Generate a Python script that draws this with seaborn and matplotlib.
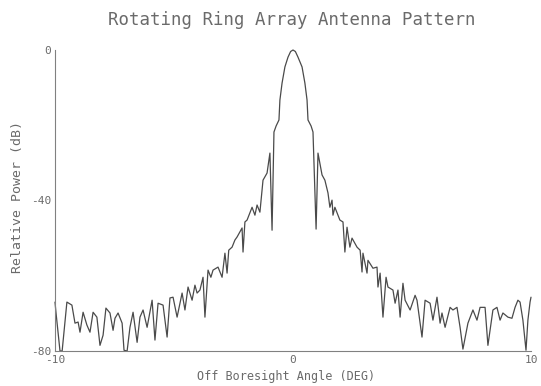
import pandas as pd
import matplotlib
matplotlib.use('Agg')
import matplotlib.pyplot as plt
import seaborn as sns

# Pattern values (angle in deg, relative power in dB)
left_lobes = [
    (-10.00, -67.0), (-9.96, -69.7), (-9.79, -80.0), (-9.70, -80.0), (-9.50, -67.0),
    (-9.29, -67.8), (-9.16, -72.6), (-9.03, -72.3), (-8.95, -75.0), (-8.82, -69.7),
    (-8.66, -73.1), (-8.53, -75.0), (-8.40, -69.7), (-8.24, -71.0), (-8.11, -78.5),
    (-7.98, -75.8), (-7.86, -68.6), (-7.69, -69.9), (-7.56, -74.5), (-7.48, -71.3),
    (-7.35, -69.9), (-7.18, -72.6), (-7.10, -79.8), (-6.97, -80.0), (-6.85, -73.7),
    (-6.72, -69.7), (-6.55, -77.7), (-6.43, -71.0), (-6.30, -69.1), (-6.13, -73.7),
    (-5.92, -66.5), (-5.80, -77.1), (-5.67, -67.3), (-5.46, -67.8), (-5.29, -76.3),
    (-5.17, -65.9), (-5.04, -65.7), (-4.87, -71.0), (-4.66, -64.6), (-4.54, -69.1),
    (-4.41, -63.0), (-4.24, -66.5), (-4.12, -62.5), (-4.03, -64.6), (-3.91, -63.8),
    (-3.78, -60.4), (-3.70, -71.0), (-3.57, -58.5), (-3.45, -60.4), (-3.36, -58.5),
    (-3.15, -57.7), (-2.98, -60.4), (-2.86, -54.0), (-2.77, -59.3), (-2.70, -53.2),
    (-2.56, -52.4), (-2.44, -50.5), (-2.35, -49.7), (-2.14, -47.3), (-2.10, -53.7),
    (-2.02, -45.7), (-1.93, -45.2), (-1.72, -41.8), (-1.60, -43.9), (-1.51, -41.2),
    (-1.39, -43.1), (-1.26, -34.6), (-1.09, -32.7), (-0.97, -27.4), (-0.88, -47.9),
]

main_lobe = [
    (-0.80, -21.8), (-0.71, -20.2), (-0.59, -18.6), (-0.55, -13.3), (-0.46, -8.8),
    (-0.34, -4.5), (-0.21, -1.9), (-0.10, -0.4), (0.00, 0.0), (0.10, -0.4),
    (0.21, -1.9), (0.38, -4.5), (0.50, -8.8), (0.59, -13.3), (0.63, -18.6),
    (0.76, -20.2), (0.84, -21.8),
]

right_lobes = [
    (0.97, -47.6), (1.05, -27.4), (1.22, -33.2), (1.34, -34.6), (1.47, -38.0),
    (1.55, -41.8), (1.64, -39.9), (1.68, -43.9), (1.76, -41.8), (1.97, -45.2),
    (2.10, -45.7), (2.18, -53.7), (2.27, -47.1), (2.39, -52.4), (2.48, -50.0),
    (2.69, -52.4), (2.82, -53.2), (2.90, -59.0), (2.94, -54.0), (3.11, -59.3),
    (3.15, -55.9), (3.36, -58.0), (3.53, -57.7), (3.57, -63.0), (3.66, -59.3),
    (3.78, -71.0), (3.91, -60.4), (3.99, -63.0), (4.20, -63.8), (4.29, -67.3),
    (4.41, -63.8), (4.50, -71.0), (4.62, -62.0), (4.71, -66.5), (4.92, -69.1),
    (5.13, -65.2), (5.21, -66.5), (5.42, -76.3), (5.55, -66.5), (5.76, -67.3),
    (5.88, -71.8), (6.05, -65.7), (6.18, -72.6), (6.26, -69.9), (6.39, -73.7),
    (6.60, -68.4), (6.72, -69.1), (6.89, -68.4), (7.02, -73.7), (7.14, -79.5),
    (7.35, -72.6), (7.56, -69.1), (7.73, -71.8), (7.86, -68.4), (8.07, -68.4),
    (8.19, -78.5), (8.40, -69.1), (8.57, -68.4), (8.70, -71.8), (8.82, -69.9),
    (9.03, -71.0), (9.20, -71.3), (9.33, -68.4), (9.45, -66.5), (9.54, -67.0),
    (9.66, -71.8), (9.79, -79.8), (9.87, -71.8), (9.96, -67.0), (10.00, -65.7),
]

x_ticks = list(range(-10, 11))
x_labels = ['-10' if t == -10 else '0' if t == 0 else '10' if t == 10 else '' for t in x_ticks]
y_ticks = list(range(-80, 1, 10))
y_labels = [str(t) if t in (0, -40, -80) else '' for t in y_ticks]

df = pd.DataFrame(left_lobes + main_lobe + right_lobes, columns=['angle', 'power'])

sns.set_style('white')
plt.rcParams['font.family'] = ['DejaVu Sans Mono']
text_color = '#6a6a6a'

fig = plt.figure(figsize=(5.41, 3.86), dpi=100)
ax = fig.add_axes([55 / 541, 35 / 386, 476 / 541, 301 / 386])

sns.lineplot(data=df, x='angle', y='power', sort=False, estimator=None,
             color='#4a4a4a', linewidth=0.9, ax=ax, clip_on=False)

ax.set_xlim(-10, 10)
ax.set_ylim(-80, 0)
ax.set_xticks(x_ticks)
ax.set_xticklabels(x_labels)
ax.set_yticks(y_ticks)
ax.set_yticklabels(y_labels)
ax.tick_params(direction='in', length=3, width=0.7, color='#888888',
               labelcolor=text_color, labelsize=8)
ax.tick_params(axis='x', pad=3)
ax.tick_params(axis='y', pad=3)
ax.set_xlabel('')
ax.set_ylabel('')

for side in ['top', 'right']:
    ax.spines[side].set_visible(False)
for side in ['left', 'bottom']:
    ax.spines[side].set_color('#808080')
    ax.spines[side].set_linewidth(0.8)

fig.text(0.540, 0.948, 'Rotating Ring Array Antenna Pattern', ha='center', va='center',
         fontsize=12.5, color=text_color)
fig.text(0.529, 0.024, 'Off Boresight Angle (DEG)', ha='center', va='center',
         fontsize=8.5, color=text_color)
fig.text(0.032, 0.49, 'Relative Power (dB)', ha='center', va='center', rotation=90,
         fontsize=9.5, color=text_color)

fig.savefig('out.png', dpi=100, facecolor='white')
plt.close()
